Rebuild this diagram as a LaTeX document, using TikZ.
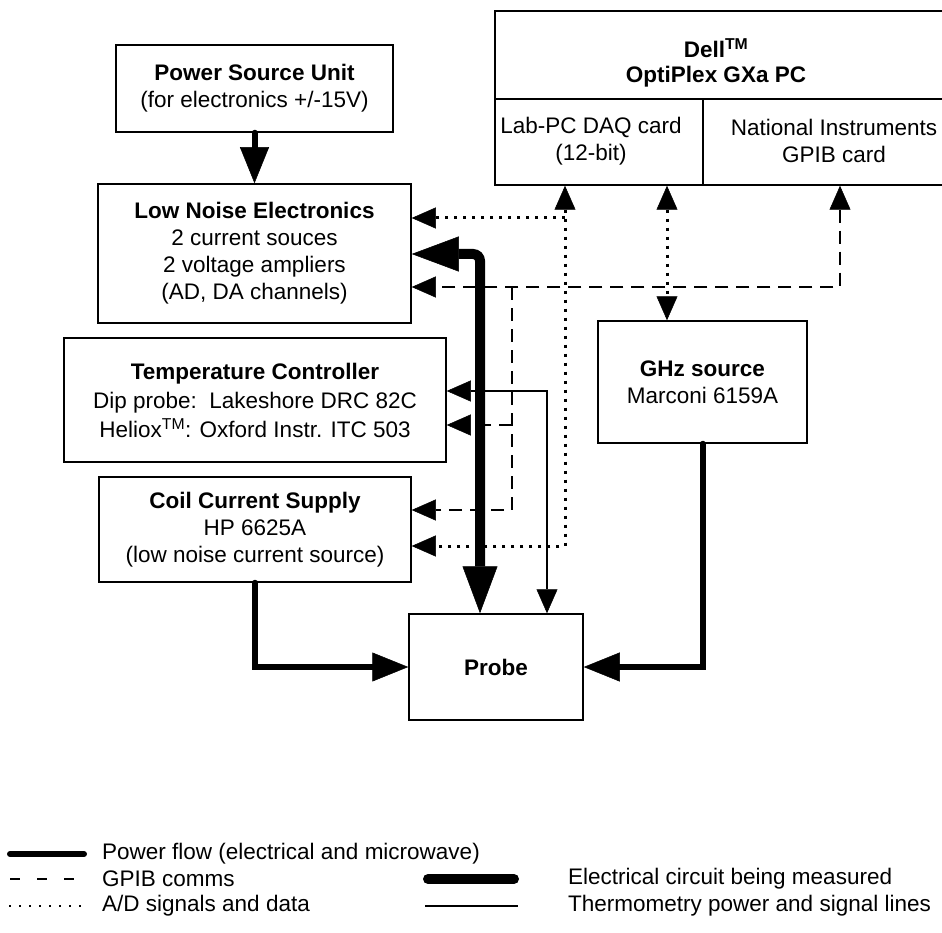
\documentclass[tikz,border=0pt]{standalone}
\usepackage{fontspec}
\setmainfont{Liberation Sans}
\usetikzlibrary{arrows.meta}

\begin{document}
\begin{tikzpicture}[x=1pt,y=-1pt,
    every node/.style={font=\fontsize{22.5}{27}\selectfont, align=center, inner sep=0pt},
    box/.style={draw, line width=1.5pt},
    sigtip/.tip={Triangle[length=24pt,width=21pt,line width=0.5pt]},
    powtip/.tip={Triangle[length=36pt,width=29pt,line width=0.5pt]},
    bigtip/.tip={Triangle[length=47pt,width=35pt,line width=0.5pt]},
    power/.style={line width=6pt, line cap=round, arrows={-powtip}},
    circuit/.style={line width=10pt, rounded corners=7pt, arrows={bigtip-bigtip}},
    thermo/.style={line width=1.5pt, arrows={sigtip-sigtip}},
    gpib/.style={line width=2pt, dash pattern=on 13pt off 8pt},
    adline/.style={line width=3pt, dash pattern=on 3pt off 6pt}]
    \useasboundingbox (0,0) rectangle (942,933);

    \node[box, minimum width=277pt, minimum height=87pt] (psu) at (254.5,88.5)
        {\textbf{Power Source Unit}\\(for electronics +/-15V)};
    \node[box, minimum width=313pt, minimum height=139pt] (lne) at (254.5,253.5)
        {\textbf{Low Noise Electronics}\\2 current souces\\2 voltage ampliers\\(AD, DA channels)};
    \node[box, minimum width=382pt, minimum height=124pt] (temp) at (255,400)
        {\textbf{Temperature Controller}\\[2pt]Dip probe:\ \ Lakeshore DRC 82C\\[2pt]Heliox\textsuperscript{TM}: Oxford Instr. ITC 503};
    \node[box, minimum width=312pt, minimum height=105pt] (coil) at (255,529.5)
        {\textbf{Coil Current Supply}\\HP 6625A\\(low noise current source)};
    \node[box, minimum width=174pt, minimum height=106pt] (probe) at (496,667) {\textbf{Probe}};
    \node[box, minimum width=209pt, minimum height=122pt] (ghz) at (702.5,382)
        {\textbf{GHz source}\\Marconi 6159A};

    \node[box, minimum width=466pt, minimum height=88pt] (dell) at (728,55) {};
    \node[box, minimum width=208pt, minimum height=86pt] (labpc) at (599,142) {};
    \node[box, minimum width=258pt, minimum height=86pt] (gpibcard) at (832,142) {};
    \node[font=\fontsize{22.5}{25}\selectfont\bfseries] (delltxt) at (716,63) {Dell\textsuperscript{TM}\\OptiPlex GXa PC};
    \node (labtxt) at (591,141) {Lab-PC DAQ card\\(12-bit)};
    \node (gpibtxt) at (834,141) {National Instruments\\GPIB card};

    \coordinate (adjoin) at (565,218);
    \coordinate (gpibturn) at (840,287);
    \coordinate (gpibjoin) at (512,287);
    \coordinate (gpibtemp) at (512,425);
    \coordinate (gpibcoil) at (512,510);
    \coordinate (thermoturn) at (547,391);
    \coordinate (circturn) at (480,254);

    \draw[power] (psu) -- (lne);
    \draw[power] (coil.south) |- (probe.west);
    \draw[power] (ghz.south) |- (probe.east);
    \draw[circuit] (circturn -| lne.east) -- (circturn) -- (circturn |- probe.north);
    \draw[thermo] (thermoturn -| temp.east) -- (thermoturn) -- (thermoturn |- probe.north);

    \draw[adline, arrows={sigtip-sigtip}] (labpc.south -| adjoin) |- (coil.east |- 0,546);
    \draw[adline, arrows={-sigtip}] (adjoin) -- (adjoin -| lne.east);
    \draw[adline, arrows={sigtip-sigtip}] (labpc.south -| 667,0) -- (ghz.north -| 667,0);

    \draw[gpib, arrows={sigtip-sigtip}] (gpibcard.south -| gpibturn) -- (gpibturn) -- (gpibturn -| lne.east);
    \draw[gpib, arrows={-sigtip}] (gpibjoin) -- (gpibcoil) -- (gpibcoil -| coil.east);
    \draw[gpib, arrows={-sigtip}] (gpibtemp) -- (gpibtemp -| temp.east);

    \draw[line width=6pt, line cap=round] (10,854) -- (84,854);
    \draw[line width=2pt, dash pattern=on 10pt off 17pt] (10,879) -- (75,879);
    \draw[line width=2pt, dash pattern=on 2pt off 8pt] (9,906) -- (88,906);
    \draw[line width=10pt, line cap=round] (428,879) -- (514,879);
    \draw[line width=1.5pt] (425,906) -- (518,906);
    \node[anchor=west] (legpower) at (102,854) {Power flow (electrical and microwave)};
    \node[anchor=west] (leggpib) at (102,879) {GPIB comms};
    \node[anchor=west] (legad) at (102,906) {A/D signals and data};
    \node[anchor=west] (legcirc) at (568,879) {Electrical circuit being measured};
    \node[anchor=west] (legtherm) at (568,906) {Thermometry power and signal lines};
\end{tikzpicture}
\end{document}
